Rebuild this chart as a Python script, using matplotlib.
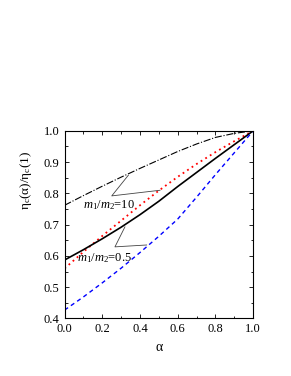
import numpy as np
from matplotlib import pyplot as plt
from matplotlib.ticker import MultipleLocator

plt.rcParams['font.family'] = ['Liberation Serif', 'DejaVu Serif']
plt.rcParams['mathtext.fontset'] = 'custom'
plt.rcParams['mathtext.rm'] = 'Liberation Serif'
plt.rcParams['mathtext.it'] = 'Liberation Serif:italic'

# данные
alpha = [0.0, 0.1, 0.2, 0.3, 0.4, 0.5, 0.6, 0.7, 0.8, 0.9, 1.0]
eta_dashdot = [0.762, 0.793, 0.823, 0.852, 0.880, 0.907, 0.934, 0.958, 0.979, 0.992, 1.0]
eta_red = [0.560, 0.613, 0.664, 0.713, 0.762, 0.809, 0.853, 0.894, 0.932, 0.967, 1.0]
eta_black = [0.587, 0.620, 0.655, 0.692, 0.732, 0.775, 0.822, 0.867, 0.912, 0.956, 1.0]
eta_blue = [0.427, 0.469, 0.514, 0.561, 0.611, 0.663, 0.718, 0.788, 0.860, 0.930, 1.0]

fig = plt.figure(figsize=(2.91, 3.76), dpi=100)
ax = fig.add_axes([0.222, 0.153, 0.648, 0.499])

ax.plot(alpha, eta_dashdot, color='black', ls='-.', lw=0.8)
ax.plot(alpha, eta_red, color='red', ls=(0, (1, 2)), lw=1.3)
ax.plot(alpha, eta_black, color='black', ls='-', lw=1.2)
ax.plot(alpha, eta_blue, color='blue', ls=(0, (3, 2.5)), lw=1.0)

# подписи с выносными линиями
ax.text(0.098, 0.762, '$m_1/m_2$=10', fontsize=9, va='center', ha='left')
ax.plot([0.338, 0.25, 0.506], [0.858, 0.792, 0.81], color='#444444', lw=0.6)
ax.text(0.066, 0.592, '$m_1/m_2$=0.5', fontsize=9, va='center', ha='left')
ax.plot([0.32, 0.267, 0.435], [0.693, 0.629, 0.635], color='#444444', lw=0.6)

ax.set_xlim(0, 1)
ax.set_ylim(0.4, 1.0)
ax.xaxis.set_major_locator(MultipleLocator(0.2))
ax.xaxis.set_minor_locator(MultipleLocator(0.1))
ax.yaxis.set_major_locator(MultipleLocator(0.1))
ax.yaxis.set_minor_locator(MultipleLocator(0.05))
ax.tick_params(which='both', direction='in', top=True, right=True, labelsize=9)
ax.tick_params(which='major', length=3, width=0.6)
ax.tick_params(which='minor', length=1.8, width=0.6)
ax.xaxis.set_major_formatter(plt.FormatStrFormatter('%.1f'))
ax.yaxis.set_major_formatter(plt.FormatStrFormatter('%.1f'))
for s in ax.spines.values():
    s.set_linewidth(0.8)

ax.set_xlabel('α', fontsize=10, labelpad=4)
ax.set_ylabel('η$_\\mathregular{c}$(α)/η$_\\mathregular{c}$(1)', fontsize=9.5)
ax.yaxis.set_label_coords(-0.16, 0.734)

fig.savefig('out.png', dpi=100)
